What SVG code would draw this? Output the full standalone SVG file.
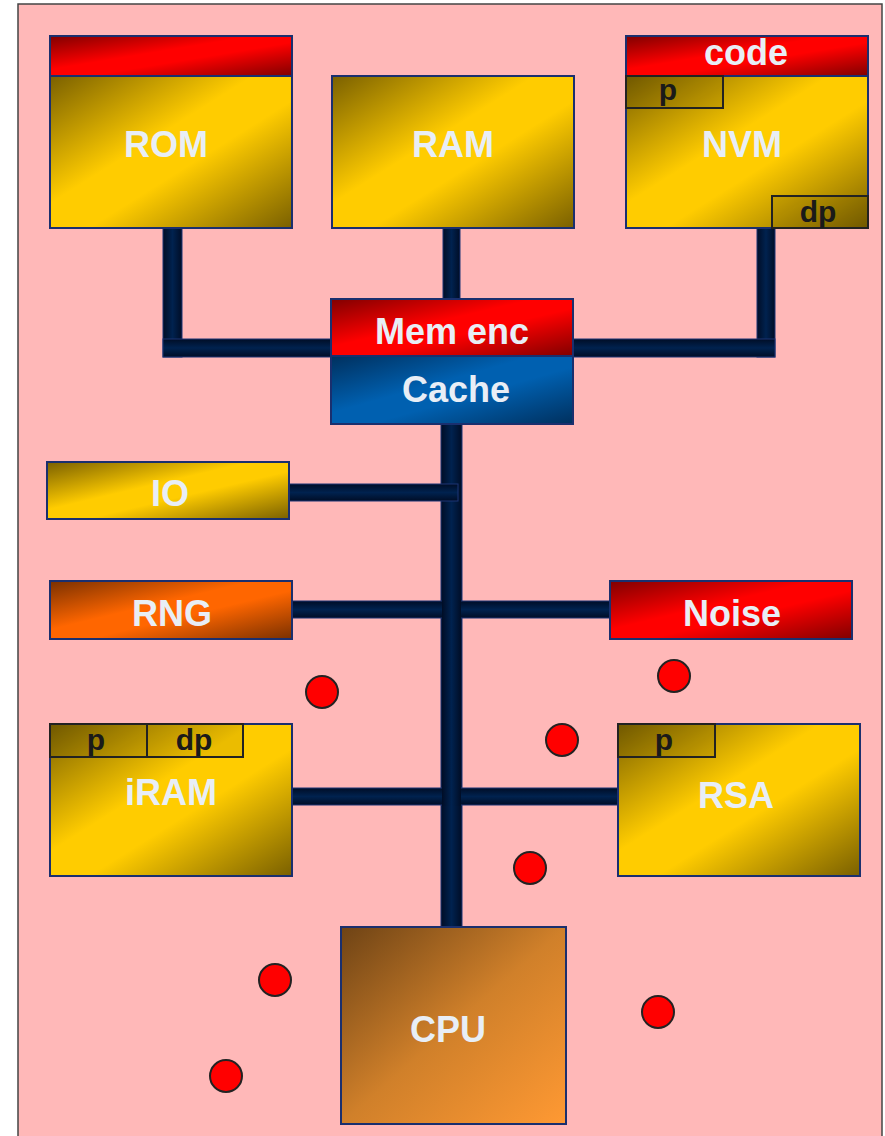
<svg xmlns="http://www.w3.org/2000/svg" width="885" height="1136" viewBox="0 0 885 1136">
<defs>
<linearGradient id="gy" x1="0" y1="0" x2="1" y2="1"><stop offset="0" stop-color="#7a6000"/><stop offset="0.42" stop-color="#ffcc00"/><stop offset="0.58" stop-color="#ffcc00"/><stop offset="1" stop-color="#7a6000"/></linearGradient>
<linearGradient id="gr" x1="0" y1="0" x2="1" y2="1"><stop offset="0" stop-color="#800000"/><stop offset="0.42" stop-color="#ff0000"/><stop offset="0.58" stop-color="#ff0000"/><stop offset="1" stop-color="#800000"/></linearGradient>
<linearGradient id="gb" x1="0" y1="0" x2="1" y2="1"><stop offset="0" stop-color="#00305e"/><stop offset="0.42" stop-color="#0060b0"/><stop offset="0.58" stop-color="#0060b0"/><stop offset="1" stop-color="#00305e"/></linearGradient>
<linearGradient id="go" x1="0" y1="0" x2="1" y2="1"><stop offset="0" stop-color="#7a3000"/><stop offset="0.42" stop-color="#ff6600"/><stop offset="0.58" stop-color="#ff6600"/><stop offset="1" stop-color="#7a3000"/></linearGradient>
<linearGradient id="gc" x1="0" y1="0" x2="1" y2="1"><stop offset="0" stop-color="#6e4315"/><stop offset="0.5" stop-color="#d0802a"/><stop offset="1" stop-color="#ff9933"/></linearGradient>
<linearGradient id="bv" x1="0" y1="0" x2="1" y2="0"><stop offset="0" stop-color="#000d26"/><stop offset="0.5" stop-color="#00224f"/><stop offset="1" stop-color="#000d26"/></linearGradient>
<linearGradient id="bh" x1="0" y1="0" x2="0" y2="1"><stop offset="0" stop-color="#000d26"/><stop offset="0.5" stop-color="#00224f"/><stop offset="1" stop-color="#000d26"/></linearGradient>
</defs>
<style>
.box{stroke:#1a2f6e;stroke-width:2}
.sub{fill:#000;fill-opacity:0.08;stroke:#222;stroke-width:2}
.lbl{font-family:"Liberation Sans",Arial,sans-serif;font-weight:bold;font-size:36px;fill:#e8eef6;text-anchor:middle}
.sm{font-family:"Liberation Sans",Arial,sans-serif;font-weight:bold;font-size:30px;fill:#1a1a1a;text-anchor:middle}
.bv{fill:url(#bv);stroke:#1c3574;stroke-width:1}
.bh{fill:url(#bh);stroke:#1c3574;stroke-width:1}
.dot{fill:#ff0000;stroke:#222;stroke-width:2}
</style>
<rect x="18" y="4" width="864" height="1140" fill="#ffb8b8" stroke="#444" stroke-width="1.5"/>
<g id="connectors">
<rect class="bv" x="163" y="228" width="19" height="129"/>
<rect class="bv" x="443" y="228" width="17" height="72"/>
<rect class="bv" x="757" y="228" width="18" height="129"/>
<rect class="bh" x="163" y="339" width="612" height="18"/>
<rect class="bv" x="441" y="424" width="21" height="504"/>
<rect class="bh" x="289" y="484" width="169" height="17"/>
<rect class="bh" x="292" y="601" width="318" height="17"/>
<rect class="bh" x="292" y="788" width="326" height="17"/>
<rect x="442" y="600" width="19" height="206" fill="url(#bv)"/>
</g>
<g id="rom">
<rect class="box" x="50" y="36" width="242" height="40" fill="url(#gr)"/>
<rect class="box" x="50" y="76" width="242" height="152" fill="url(#gy)"/>
<text class="lbl" x="166" y="157">ROM</text>
</g>
<g id="ram">
<rect class="box" x="332" y="76" width="242" height="152" fill="url(#gy)"/>
<text class="lbl" x="453" y="157">RAM</text>
</g>
<g id="nvm">
<rect class="box" x="626" y="36" width="242" height="40" fill="url(#gr)"/>
<text class="lbl" x="746" y="65">code</text>
<rect class="box" x="626" y="76" width="242" height="152" fill="url(#gy)"/>
<rect class="sub" x="626" y="76" width="97" height="32"/>
<text class="sm" x="668" y="100">p</text>
<rect class="sub" x="772" y="196" width="96" height="32"/>
<text class="sm" x="818" y="222">dp</text>
<text class="lbl" x="742" y="157">NVM</text>
</g>
<g id="memenc">
<rect class="box" x="331" y="299" width="242" height="57" fill="url(#gr)"/>
<text class="lbl" x="452" y="344">Mem enc</text>
</g>
<g id="cache">
<rect class="box" x="331" y="356" width="242" height="68" fill="url(#gb)"/>
<text class="lbl" x="456" y="402">Cache</text>
</g>
<g id="io">
<rect class="box" x="47" y="462" width="242" height="57" fill="url(#gy)"/>
<text class="lbl" x="170" y="506">IO</text>
</g>
<g id="rng">
<rect class="box" x="50" y="581" width="242" height="58" fill="url(#go)"/>
<text class="lbl" x="172" y="626">RNG</text>
</g>
<g id="noise">
<rect class="box" x="610" y="581" width="242" height="58" fill="url(#gr)"/>
<text class="lbl" x="732" y="626">Noise</text>
</g>
<g id="iram">
<rect class="box" x="50" y="724" width="242" height="152" fill="url(#gy)"/>
<rect class="sub" x="50" y="724" width="97" height="33"/>
<rect class="sub" x="147" y="724" width="96" height="33"/>
<text class="sm" x="96" y="750">p</text>
<text class="sm" x="194" y="750">dp</text>
<text class="lbl" x="171" y="805">iRAM</text>
</g>
<g id="rsa">
<rect class="box" x="618" y="724" width="242" height="152" fill="url(#gy)"/>
<rect class="sub" x="618" y="724" width="97" height="33"/>
<text class="sm" x="664" y="750">p</text>
<text class="lbl" x="736" y="808">RSA</text>
</g>
<g id="cpu">
<rect class="box" x="341" y="927" width="225" height="197" fill="url(#gc)"/>
<text class="lbl" x="448" y="1042">CPU</text>
</g>
<g id="dots">
<circle class="dot" cx="322" cy="692" r="16"/>
<circle class="dot" cx="674" cy="676" r="16"/>
<circle class="dot" cx="562" cy="740" r="16"/>
<circle class="dot" cx="530" cy="868" r="16"/>
<circle class="dot" cx="275" cy="980" r="16"/>
<circle class="dot" cx="226" cy="1076" r="16"/>
<circle class="dot" cx="658" cy="1012" r="16"/>
</g>
</svg>
